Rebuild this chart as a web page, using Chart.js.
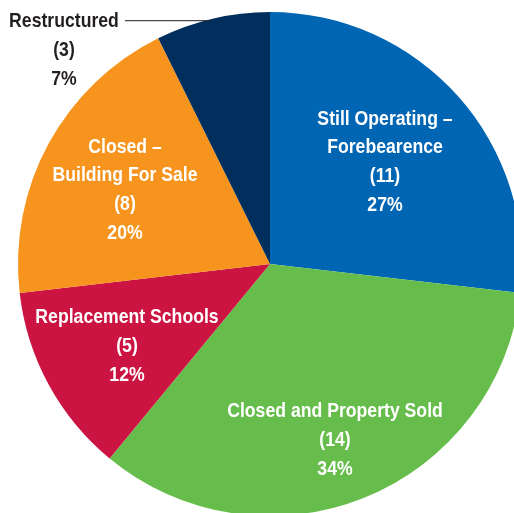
<!DOCTYPE html>
<html>
<head>
<meta charset="utf-8">
<script src="https://cdn.jsdelivr.net/npm/chart.js@4"></script>
<style>
  html, body { margin: 0; padding: 0; background: #fff; overflow: hidden; }
  #wrap { width: 514px; height: 513px; overflow: hidden; position: relative; }
  #chart-pie { position: absolute; left: 0; top: 0; }
</style>
</head>
<body>
<div id="wrap"><canvas id="chart-pie" width="540" height="528"></canvas></div>
<script>
// slices, clockwise from 12 o'clock
var categories = ["Still Operating – Forebearence", "Closed and Property Sold", "Replacement Schools", "Closed – Building For Sale", "Restructured"];
var schoolCounts = [11, 14, 5, 8, 3];
var sliceColors = ["#0066b3", "#67bd4c", "#cc1442", "#f7941d", "#002f5e"];

// how each label is broken into lines
var labelLines = [
  ["Still Operating –", "Forebearence"],
  ["Closed and Property Sold"],
  ["Replacement Schools"],
  ["Closed –", "Building For Sale"],
  ["Restructured"]
];

// label block centre, offset from pie centre (px)
var labelOffsets = [[115, -102], [65, 176], [-143, 82], [-145, -74], [-206, -214]];
var labelColors = ["#fff", "#fff", "#fff", "#fff", "#231f20"];

var total = schoolCounts.reduce((a, b) => a + b, 0);

// no condensed face installed, so squeeze a bold sans horizontally
const SQUEEZE = 0.84;

const labelPlugin = {
  id: "sliceLabels",
  afterDatasetsDraw(chart) {
    const ctx = chart.ctx;
    const arcs = chart.getDatasetMeta(0).data;
    const cx = arcs[0].x, cy = arcs[0].y, R = arcs[0].outerRadius;
    const lh = 28.8;
    ctx.save();
    ctx.font = "bold 21px 'Liberation Sans', Arial, sans-serif";
    ctx.textAlign = "center";
    ctx.textBaseline = "middle";
    schoolCounts.forEach((v, i) => {
      const lines = labelLines[i].concat(["(" + v + ")", Math.round(v / total * 100) + "%"]);
      const bx = cx + labelOffsets[i][0];
      const by = cy + labelOffsets[i][1];
      const y0 = by - (lines.length - 1) * lh / 2;
      ctx.fillStyle = labelColors[i];
      lines.forEach((t, j) => {
        ctx.save();
        ctx.translate(bx, y0 + j * lh);
        ctx.scale(SQUEEZE, 1);
        ctx.fillText(t, 0, 0);
        ctx.restore();
      });
      if (i === 4) {
        // leader line from the outside label to the pie edge
        const ly = y0 - 1;
        const w = ctx.measureText(lines[0]).width * SQUEEZE;
        const ex = cx - Math.sqrt(R * R - (ly - cy) * (ly - cy));
        ctx.strokeStyle = "#231f20";
        ctx.lineWidth = 1;
        ctx.beginPath();
        ctx.moveTo(bx + w / 2 + 6, ly + 0.5);
        ctx.lineTo(ex + 4, ly + 0.5);
        ctx.stroke();
      }
    });
    ctx.restore();
  }
};

new Chart(document.getElementById("chart-pie"), {
  type: "pie",
  data: {
    labels: categories,
    datasets: [{
      data: schoolCounts,
      backgroundColor: sliceColors,
      borderWidth: 0
    }]
  },
  options: {
    responsive: false,
    animation: false,
    layout: { padding: 12 },
    plugins: { legend: { display: false }, tooltip: { enabled: false } }
  },
  plugins: [labelPlugin]
});
</script>
</body>
</html>
